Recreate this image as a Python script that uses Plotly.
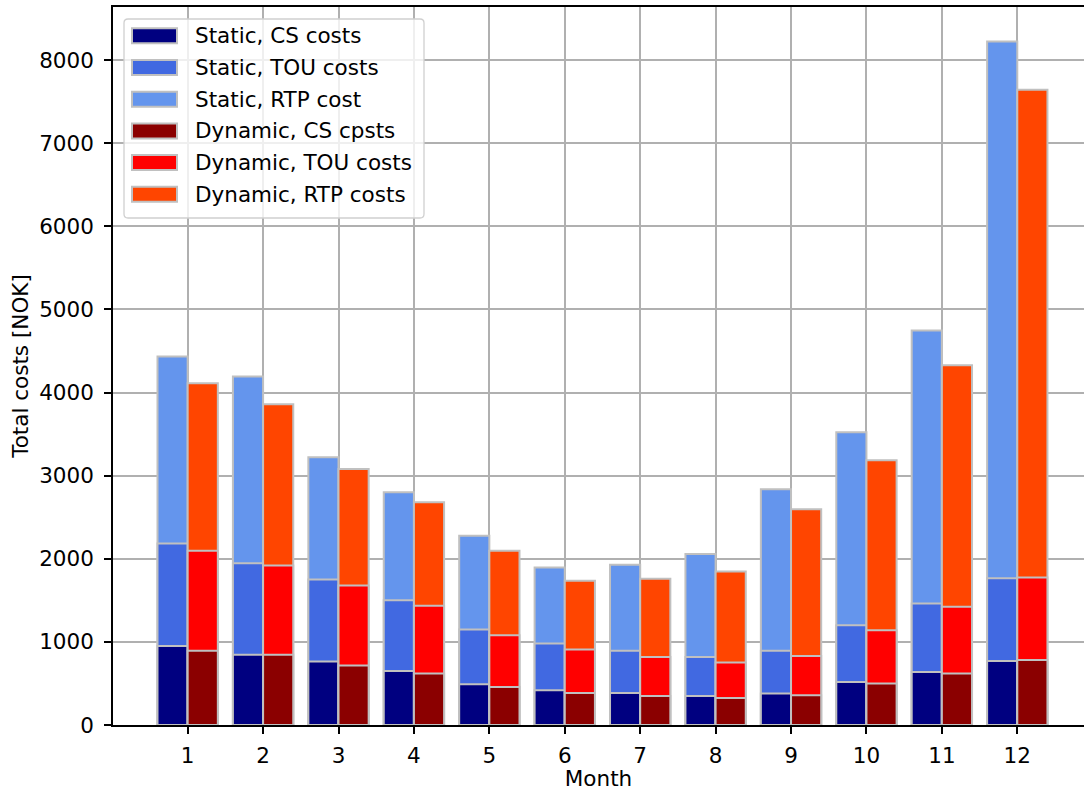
import plotly.graph_objects as go

# Monthly total costs [NOK] per pricing scheme, for static and dynamic operation
months = list(range(1, 13))

static_cs = [952, 845, 764, 651, 490, 418, 386, 349, 378, 518, 639, 770]
static_tou = [2185, 1945, 1752, 1502, 1149, 981, 892, 819, 892, 1201, 1463, 1765]
static_rtp = [4434, 4193, 3222, 2800, 2277, 1896, 1928, 2057, 2836, 3523, 4747, 8225]

dynamic_cs = [892, 845, 716, 619, 458, 386, 349, 325, 358, 498, 619, 781]
dynamic_tou = [2096, 1920, 1680, 1434, 1081, 908, 819, 752, 831, 1141, 1422, 1776]
dynamic_rtp = [4113, 3860, 3081, 2680, 2096, 1735, 1759, 1848, 2595, 3186, 4330, 7643]

legend_names = ["Static, CS costs", "Static, TOU costs", "Static, RTP cost",
                "Dynamic, CS cpsts", "Dynamic, TOU costs", "Dynamic, RTP costs"]
colors = ["#000080", "#4169E1", "#6495ED", "#8B0000", "#FF0000", "#FF4500"]

y_ticks = list(range(0, 9000, 1000))

FONT = "DejaVu Sans"
FS = 21.5
EDGE = "#c0c0c0"

W, H = 1084, 791
ML, MR, MT, MB = 113, 0, 7, 66

fig = go.Figure()

# Taller series first so the smaller cost components sit on top of them
series = [
    (static_rtp, 2, -0.4), (static_tou, 1, -0.4), (static_cs, 0, -0.4),
    (dynamic_rtp, 5, 0.0), (dynamic_tou, 4, 0.0), (dynamic_cs, 3, 0.0),
]
for vals, idx, off in series:
    fig.add_trace(go.Bar(
        x=months, y=vals, name=legend_names[idx], width=0.4, offset=off,
        marker=dict(color=colors[idx], line=dict(color=EDGE, width=2)),
        showlegend=False,
    ))

# Pixel -> paper helpers for the legend box
pw = W - ML - MR
ph = H - MT - MB


def px_x(p):
    return (p - ML) / pw


def px_y(p):
    return (H - MB - p) / ph


# Legend frame (rounded rectangle)
lx0, lx1, ly0, ly1, r = 124, 424, 19, 218, 4
path = (
    f"M {px_x(lx0 + r)},{px_y(ly0)} L {px_x(lx1 - r)},{px_y(ly0)} "
    f"Q {px_x(lx1)},{px_y(ly0)} {px_x(lx1)},{px_y(ly0 + r)} "
    f"L {px_x(lx1)},{px_y(ly1 - r)} "
    f"Q {px_x(lx1)},{px_y(ly1)} {px_x(lx1 - r)},{px_y(ly1)} "
    f"L {px_x(lx0 + r)},{px_y(ly1)} "
    f"Q {px_x(lx0)},{px_y(ly1)} {px_x(lx0)},{px_y(ly1 - r)} "
    f"L {px_x(lx0)},{px_y(ly0 + r)} "
    f"Q {px_x(lx0)},{px_y(ly0)} {px_x(lx0 + r)},{px_y(ly0)} Z"
)
shapes = [dict(type="path", xref="paper", yref="paper", path=path,
               fillcolor="rgba(255,255,255,0.8)",
               line=dict(color="#d0d0d0", width=1.3), layer="above")]
annotations = []
row0, step = 35.8, 31.7
for i, (name, col) in enumerate(zip(legend_names, colors)):
    cy = row0 + i * step
    shapes.append(dict(type="rect", xref="paper", yref="paper",
                       x0=px_x(132), x1=px_x(177), y0=px_y(cy - 7.5), y1=px_y(cy + 7.5),
                       fillcolor=col, line=dict(color=EDGE, width=2), layer="above"))
    annotations.append(dict(xref="paper", yref="paper", x=px_x(193), y=px_y(cy),
                            xanchor="left", yanchor="middle", text=name, showarrow=False,
                            font=dict(family=FONT, size=FS, color="black")))

fig.update_layout(
    width=W, height=H,
    margin=dict(l=ML, r=MR, t=MT, b=MB, pad=0),
    barmode="overlay",
    plot_bgcolor="white", paper_bgcolor="white",
    font=dict(family=FONT, size=FS, color="black"),
    shapes=shapes, annotations=annotations,
    showlegend=False,
)

fig.update_xaxes(
    range=[0.01, 0.01 + pw / 75.42], tickvals=months, ticktext=[str(m) for m in months],
    showgrid=True, gridcolor="#b0b0b0", gridwidth=1.6,
    showline=True, linecolor="black", linewidth=1.6, mirror=True,
    ticks="outside", ticklen=7, tickwidth=1.6, tickcolor="black",
    zeroline=False,
    title=dict(text="Month", font=dict(family=FONT, size=FS), standoff=4),
    ticklabelstandoff=3,
)
fig.update_yaxes(
    range=[0, 8640], tickvals=y_ticks, ticktext=[str(v) for v in y_ticks],
    showgrid=True, gridcolor="#b0b0b0", gridwidth=1.6,
    showline=True, linecolor="black", linewidth=1.6,
    ticks="outside", ticklen=7, tickwidth=1.6, tickcolor="black",
    zeroline=False,
    title=dict(text="Total costs [NOK]", font=dict(family=FONT, size=FS), standoff=5),
    ticklabelstandoff=6,
)

fig.write_html("out.html")
